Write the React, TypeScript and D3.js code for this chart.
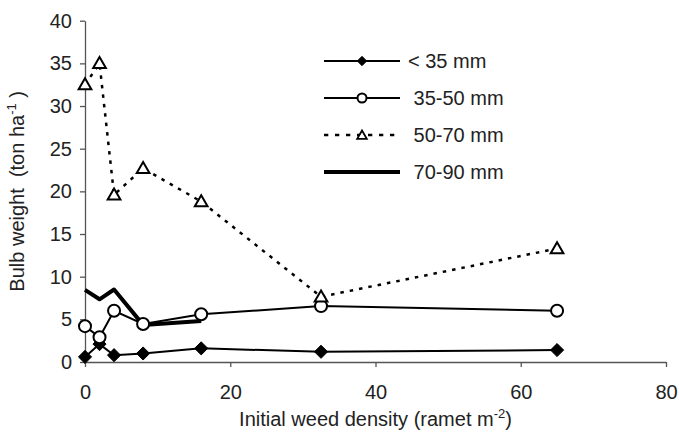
import React, { useEffect, useRef } from "react";
import * as d3 from "d3";

const xTicks = [0, 20, 40, 60, 80];
const yTicks = [0, 5, 10, 15, 20, 25, 30, 35, 40];
const density = [0, 2, 4, 8, 16, 32.5, 65];
const lt35 = [0.6, 2.1, 0.8, 1.0, 1.6, 1.2, 1.4];
const s35to50 = [4.2, 2.9, 6.0, 4.45, 5.6, 6.55, 6.0];
const s50to70 = [32.5, 35.0, 19.6, 22.7, 18.8, 7.65, 13.3];
const density7090 = [0, 2, 4, 8, 16];
const s70to90 = [8.45, 7.35, 8.5, 4.35, 4.8];
const legendLabels = ["< 35 mm", " 35-50 mm", " 50-70 mm", " 70-90 mm"];

const W = 679;
const H = 437;
const FONT = "'Liberation Sans', Arial, sans-serif";

export default function App() {
  const ref = useRef<SVGSVGElement | null>(null);

  useEffect(() => {
    const svg = d3.select(ref.current);
    svg.selectAll("*").remove();

    const x = d3.scaleLinear().domain([0, 80]).range([85, 666]);
    const y = d3.scaleLinear().domain([0, 40]).range([362, 20.7]);

    // axes
    const gx = svg
      .append("g")
      .attr("transform", `translate(0,${y(0)})`)
      .call(
        d3.axisBottom(x).tickValues(xTicks).tickSize(5).tickSizeOuter(0).tickPadding(18).tickFormat(d3.format("d"))
      );
    const gy = svg
      .append("g")
      .attr("transform", `translate(${x(0)},0)`)
      .call(
        d3.axisLeft(y).tickValues(yTicks).tickSize(5).tickSizeOuter(0).tickPadding(8).tickFormat(d3.format("d"))
      );
    [gx, gy].forEach((g) => {
      g.selectAll("path").attr("stroke", "#555").attr("stroke-width", 1.3);
      g.selectAll("line").attr("stroke", "#555").attr("stroke-width", 1.3);
      g.selectAll("text")
        .attr("font-family", FONT)
        .attr("font-size", 20)
        .attr("fill", "#222");
    });

    const pts = (xs: number[], ys: number[]) => xs.map((d, i) => [d, ys[i]] as [number, number]);
    const line = d3
      .line<[number, number]>()
      .x((d) => x(d[0]))
      .y((d) => y(d[1]));

    // 70-90 mm thick line
    svg
      .append("path")
      .attr("d", line(pts(density7090, s70to90)))
      .attr("fill", "none")
      .attr("stroke", "#000")
      .attr("stroke-width", 4)
      .attr("stroke-linejoin", "round");

    // <35 mm
    svg
      .append("path")
      .attr("d", line(pts(density, lt35)))
      .attr("fill", "none")
      .attr("stroke", "#000")
      .attr("stroke-width", 2);
    const diamond = d3.symbol().type(d3.symbolDiamond2).size(110);
    svg
      .append("g")
      .selectAll("path")
      .data(pts(density, lt35))
      .join("path")
      .attr("d", diamond as any)
      .attr("transform", (d) => `translate(${x(d[0])},${y(d[1])}) scale(1,1)`)
      .attr("fill", "#000")
      .attr("stroke", "#000")
      .attr("stroke-width", 1);

    // 35-50 mm
    svg
      .append("path")
      .attr("d", line(pts(density, s35to50)))
      .attr("fill", "none")
      .attr("stroke", "#000")
      .attr("stroke-width", 2);
    svg
      .append("g")
      .selectAll("circle")
      .data(pts(density, s35to50))
      .join("circle")
      .attr("cx", (d) => x(d[0]))
      .attr("cy", (d) => y(d[1]))
      .attr("r", 6)
      .attr("fill", "#fff")
      .attr("stroke", "#000")
      .attr("stroke-width", 2);

    // 50-70 mm dashed
    svg
      .append("path")
      .attr("d", line(pts(density, s50to70)))
      .attr("fill", "none")
      .attr("stroke", "#000")
      .attr("stroke-width", 2.5)
      .attr("stroke-dasharray", "3.5,6");
    const tri = d3.symbol().type(d3.symbolTriangle).size(70);
    svg
      .append("g")
      .selectAll("path")
      .data(pts(density, s50to70))
      .join("path")
      .attr("d", tri as any)
      .attr("transform", (d) => `translate(${x(d[0])},${y(d[1]) + 1})`)
      .attr("fill", "#fff")
      .attr("stroke", "#000")
      .attr("stroke-width", 2);

    // legend
    const rows = [61, 98, 135, 172];
    const lg = svg.append("g");
    rows.forEach((ry, i) => {
      const ln = lg
        .append("line")
        .attr("x1", 324)
        .attr("x2", 400)
        .attr("y1", ry)
        .attr("y2", ry)
        .attr("stroke", "#000")
        .attr("stroke-width", i === 3 ? 4 : i === 2 ? 2.5 : 2);
      if (i === 2) ln.attr("stroke-dasharray", "4.3,6.7");
      if (i === 0) {
        lg.append("path")
          .attr("d", d3.symbol().type(d3.symbolDiamond2).size(55)() as string)
          .attr("transform", `translate(362,${ry})`)
          .attr("fill", "#000")
          .attr("stroke", "#000");
      } else if (i === 1) {
        lg.append("circle")
          .attr("cx", 362)
          .attr("cy", ry)
          .attr("r", 4.5)
          .attr("fill", "#fff")
          .attr("stroke", "#000")
          .attr("stroke-width", 2);
      } else if (i === 2) {
        lg.append("path")
          .attr("d", d3.symbol().type(d3.symbolTriangle).size(40)() as string)
          .attr("transform", `translate(362,${ry + 1})`)
          .attr("fill", "#fff")
          .attr("stroke", "#000")
          .attr("stroke-width", 1.8);
      }
      lg.append("text")
        .attr("x", 408)
        .attr("y", ry + 7)
        .attr("font-family", FONT)
        .attr("font-size", 20)
        .attr("fill", "#222")
        .attr("xml:space", "preserve")
        .style("white-space", "pre")
        .text(legendLabels[i]);
    });

    // x title
    const xt = svg
      .append("text")
      .attr("x", (x(0) + x(80)) / 2)
      .attr("y", 426)
      .attr("text-anchor", "middle")
      .attr("font-family", FONT)
      .attr("font-size", 20)
      .attr("fill", "#222");
    xt.append("tspan").text("Initial weed density (ramet m");
    xt.append("tspan").attr("font-size", 13).attr("dy", -8).text("-2");
    xt.append("tspan").attr("dy", 8).text(")");

    // y title
    const yt = svg
      .append("text")
      .attr("transform", `translate(24,${(y(0) + y(40)) / 2}) rotate(-90)`)
      .attr("text-anchor", "middle")
      .attr("font-family", FONT)
      .attr("font-size", 20)
      .attr("fill", "#222")
      .style("white-space", "pre");
    yt.append("tspan").text("Bulb weight  (ton ha");
    yt.append("tspan").attr("font-size", 13).attr("dy", -8).text("-1");
    yt.append("tspan").attr("dy", 8).text(" )");
  }, []);

  return (
    <svg
      ref={ref}
      width={W}
      height={H}
      style={{ position: "absolute", left: 0, top: 0, background: "#fff" }}
    />
  );
}
